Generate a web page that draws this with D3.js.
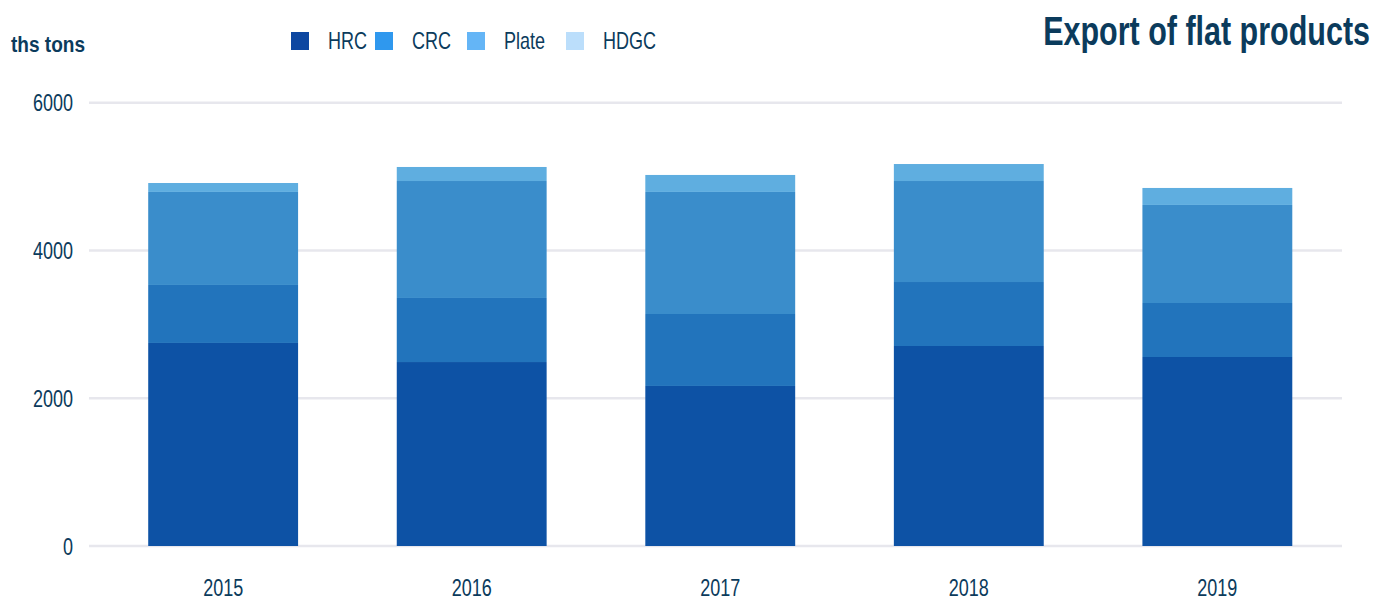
<!DOCTYPE html>
<html lang="en">
<head>
    <meta charset="UTF-8">
    <title>Export of flat products</title>
    <script src="https://cdn.jsdelivr.net/npm/d3@7/dist/d3.min.js"></script>
    <style>
        body { margin: 0; background: #fff; }
        text { font-family: "Liberation Sans", Arial, sans-serif; fill: #0b3b5c; }
    </style>
</head>
<body>
<script type="application/javascript">

    let w = 1378, h = 602;

    // data (ths tons)
    let years = ['2015', '2016', '2017', '2018', '2019'];
    let products = ['HRC', 'CRC', 'Plate', 'HDGC'];
    let hrc   = [2748, 2490, 2166, 2707, 2558];
    let crc   = [785, 867, 974, 866, 731];
    let plate = [1259, 1583, 1652, 1367, 1327];
    let hdgc  = [121, 190, 230, 230, 230];
    let yTicks = [0, 2000, 4000, 6000];

    let barColors = ['#0d52a5', '#2274bc', '#3a8dcb', '#5faee0'];
    let legendColors = ['#0d47a1', '#2f98ee', '#64b5f6', '#bbdefb'];

    let rows = years.map(function(y, i) {
        return { year: y, HRC: hrc[i], CRC: crc[i], Plate: plate[i], HDGC: hdgc[i] };
    });
    let series = d3.stack().keys(products)(rows);

    let xScale = d3.scaleBand()
        .domain(years)
        .range([98.5, 1342])
        .paddingInner(0.397)
        .paddingOuter(0.2);

    let yScale = d3.scaleLinear()
        .domain([0, 6000])
        .range([546, 102.7]);

    let svg = d3.select('body')
        .append('svg')
        .attr('width', w)
        .attr('height', h);

    // squeeze text to mimic the condensed face of the original
    function condense(sel, k) {
        sel.each(function() {
            let len = this.getComputedTextLength();
            d3.select(this)
                .attr('textLength', len * k)
                .attr('lengthAdjust', 'spacingAndGlyphs');
        });
    }

    // gridlines
    svg.append('g')
        .selectAll('line')
        .data(yTicks)
        .enter()
        .append('line')
        .attr('x1', 89)
        .attr('x2', 1342)
        .attr('y1', function(d) { return yScale(d); })
        .attr('y2', function(d) { return yScale(d); })
        .attr('stroke', '#e7e7ed')
        .attr('stroke-width', 2.5);

    // y labels
    svg.append('g')
        .selectAll('text')
        .data(yTicks)
        .enter()
        .append('text')
        .attr('x', 73)
        .attr('y', function(d) { return yScale(d) + 8.5; })
        .attr('text-anchor', 'end')
        .style('font-size', '24px')
        .text(function(d) { return d; })
        .call(condense, 0.75);

    // stacked bars
    let groups = svg.selectAll('g.series')
        .data(series)
        .enter()
        .append('g')
        .attr('class', 'series')
        .style('fill', function(d, i) { return barColors[i]; });

    groups.selectAll('rect')
        .data(function(d) { return d; })
        .enter()
        .append('rect')
        .attr('x', function(d) { return xScale(d.data.year); })
        .attr('y', function(d) { return yScale(d[1]); })
        .attr('height', function(d) { return yScale(d[0]) - yScale(d[1]); })
        .attr('width', xScale.bandwidth());

    // x labels
    svg.append('g')
        .selectAll('text')
        .data(years)
        .enter()
        .append('text')
        .attr('x', function(d) { return xScale(d) + xScale.bandwidth() / 2; })
        .attr('y', 596)
        .attr('text-anchor', 'middle')
        .style('font-size', '24px')
        .text(function(d) { return d; })
        .call(condense, 0.75);

    // unit label
    svg.append('text')
        .attr('x', 11)
        .attr('y', 52)
        .style('font-size', '22px')
        .style('font-weight', 'bold')
        .text('ths tons')
        .attr('textLength', 74)
        .attr('lengthAdjust', 'spacingAndGlyphs');

    // title, squeezed with a transform so its box stays true
    let title = svg.append('text')
        .attr('x', 0)
        .attr('y', 0)
        .attr('text-anchor', 'end')
        .style('font-size', '40px')
        .style('font-weight', 'bold')
        .text('Export of flat products');
    let titleK = 327 / title.node().getComputedTextLength();
    title.attr('transform', 'translate(1370,45) scale(' + titleK + ',1)');

    // legend
    let legendX = [291, 375, 467, 566];
    let legend = svg.append('g')
        .selectAll('g')
        .data(products)
        .enter()
        .append('g')
        .attr('transform', function(d, i) { return 'translate(' + legendX[i] + ',32)'; });

    legend.append('rect')
        .attr('width', 18)
        .attr('height', 18)
        .style('fill', function(d, i) { return legendColors[i]; });

    legend.append('text')
        .attr('x', 37)
        .attr('y', 17)
        .style('font-size', '24px')
        .text(function(d) { return d; })
        .call(condense, 0.75);

</script>
</body>
</html>
